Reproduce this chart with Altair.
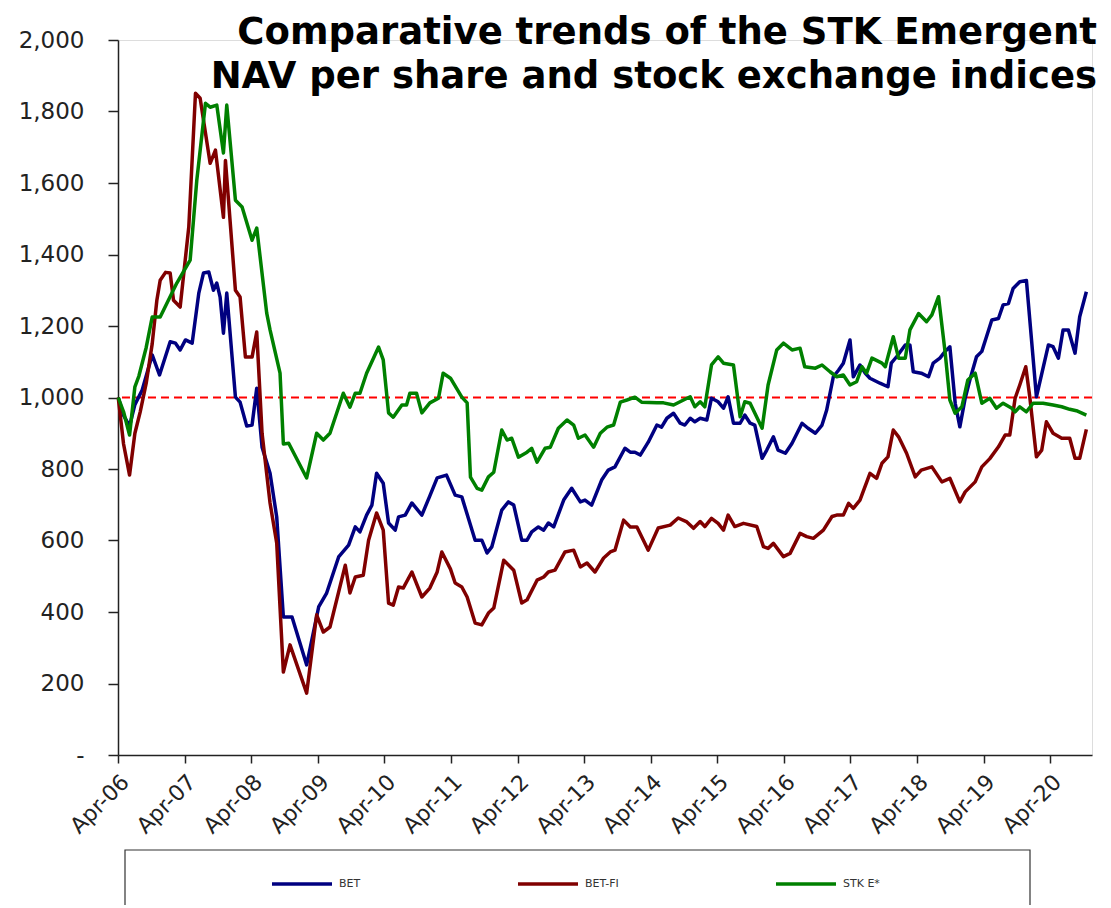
import altair as alt
import pandas as pd

# ---------------- data ----------------
bet_t = [2006.25, 2006.33, 2006.42, 2006.50, 2006.61, 2006.76, 2006.87, 2007.03, 2007.11, 2007.18,
         2007.26, 2007.36, 2007.46, 2007.53, 2007.61, 2007.68, 2007.73, 2007.78, 2007.83, 2007.88,
         2008.01, 2008.08, 2008.18, 2008.26, 2008.33, 2008.41, 2008.53, 2008.63, 2008.73, 2008.86,
         2009.08, 2009.26, 2009.38, 2009.56, 2009.71, 2009.81, 2009.88, 2009.98, 2010.06, 2010.13,
         2010.23, 2010.31, 2010.41, 2010.46, 2010.56, 2010.66, 2010.81, 2010.93, 2011.04, 2011.18,
         2011.31, 2011.41, 2011.61, 2011.71, 2011.79, 2011.86, 2012.01, 2012.11, 2012.19, 2012.31,
         2012.39, 2012.46, 2012.56, 2012.64, 2012.71, 2012.79, 2012.94, 2013.06, 2013.19, 2013.26,
         2013.36, 2013.51, 2013.61, 2013.71, 2013.86, 2013.94, 2014.01, 2014.09, 2014.21, 2014.34,
         2014.41, 2014.49, 2014.59, 2014.69, 2014.76, 2014.84, 2014.91, 2014.99, 2015.09, 2015.16,
         2015.26, 2015.34, 2015.41, 2015.49, 2015.59, 2015.66, 2015.74, 2015.81, 2015.92, 2015.99,
         2016.09, 2016.16, 2016.27, 2016.37, 2016.52, 2016.61, 2016.72, 2016.82, 2016.89, 2016.99,
         2017.07, 2017.14, 2017.24, 2017.29, 2017.39, 2017.47, 2017.54, 2017.69, 2017.81, 2017.86,
         2017.94, 2018.07, 2018.14, 2018.19, 2018.31, 2018.42, 2018.49, 2018.59, 2018.67, 2018.74,
         2018.82, 2018.89, 2018.97, 2019.04, 2019.14, 2019.22, 2019.29, 2019.37, 2019.47, 2019.54,
         2019.62, 2019.69, 2019.79, 2019.89, 2020.04, 2020.22, 2020.29, 2020.37, 2020.44, 2020.52,
         2020.62, 2020.69, 2020.79]
bet_v = [1000, 950, 920, 980, 1021, 1119, 1063, 1156, 1152, 1133,
         1161, 1152, 1292, 1348, 1351, 1300, 1320, 1281, 1180, 1292,
         1001, 987, 920, 923, 1026, 861, 788, 666, 386, 386,
         252, 414, 453, 554, 587, 638, 624, 671, 699, 788,
         760, 649, 629, 666, 671, 705, 671, 725, 775, 783,
         727, 722, 601, 601, 565, 582, 685, 708, 699, 601,
         601, 624, 638, 629, 649, 638, 713, 746, 708, 713,
         699, 769, 797, 806, 858, 847, 847, 839, 875, 923,
         917, 942, 956, 928, 923, 942, 932, 942, 937, 998,
         988, 970, 1002, 928, 928, 951, 928, 923, 830, 853,
         890, 853, 844, 872, 928, 914, 900, 923, 965, 1058,
         1077, 1096, 1161, 1058, 1091, 1068, 1054, 1040, 1030, 1096,
         1114, 1147, 1147, 1072, 1068, 1058, 1096, 1110, 1129, 1142,
         984, 918, 998, 1049, 1114, 1129, 1170, 1217, 1221, 1259,
         1263, 1305, 1324, 1327, 1002, 1147, 1142, 1110, 1189, 1189,
         1124, 1226, 1296]

betfi_t = [2006.25, 2006.33, 2006.42, 2006.50, 2006.58, 2006.67, 2006.76, 2006.83, 2006.88, 2006.96,
           2007.03, 2007.08, 2007.18, 2007.31, 2007.41, 2007.48, 2007.63, 2007.71, 2007.83, 2007.86,
           2008.01, 2008.08, 2008.16, 2008.26, 2008.33, 2008.41, 2008.53, 2008.63, 2008.73, 2008.83,
           2009.08, 2009.23, 2009.33, 2009.43, 2009.66, 2009.73, 2009.81, 2009.93, 2010.01, 2010.13,
           2010.23, 2010.31, 2010.38, 2010.46, 2010.53, 2010.66, 2010.81, 2010.93, 2011.04, 2011.11,
           2011.24, 2011.31, 2011.41, 2011.49, 2011.61, 2011.71, 2011.81, 2011.89, 2012.04, 2012.19,
           2012.31, 2012.39, 2012.54, 2012.64, 2012.71, 2012.81, 2012.96, 2013.09, 2013.19, 2013.29,
           2013.41, 2013.54, 2013.64, 2013.71, 2013.84, 2013.94, 2014.04, 2014.21, 2014.36, 2014.54,
           2014.66, 2014.79, 2014.89, 2014.99, 2015.06, 2015.16, 2015.26, 2015.34, 2015.41, 2015.51,
           2015.64, 2015.84, 2015.94, 2016.01, 2016.09, 2016.24, 2016.34, 2016.49, 2016.59, 2016.69,
           2016.84, 2016.97, 2017.04, 2017.14, 2017.22, 2017.29, 2017.39, 2017.54, 2017.64, 2017.72,
           2017.81, 2017.89, 2017.97, 2018.09, 2018.22, 2018.31, 2018.47, 2018.62, 2018.74, 2018.89,
           2018.97, 2019.12, 2019.22, 2019.34, 2019.47, 2019.57, 2019.64, 2019.72, 2019.79, 2019.88,
           2019.94, 2020.04, 2020.12, 2020.19, 2020.29, 2020.42, 2020.54, 2020.62, 2020.69, 2020.79]
betfi_v = [1000, 870, 783, 900, 960, 1040, 1150, 1272, 1328, 1350,
           1348, 1272, 1253, 1478, 1851, 1837, 1655, 1692, 1504, 1663,
           1300, 1281, 1113, 1113, 1183, 900, 705, 593, 232, 308,
           173, 392, 344, 358, 531, 453, 498, 503, 601, 677,
           629, 425, 419, 470, 467, 512, 442, 467, 512, 568,
           520, 481, 470, 442, 369, 364, 397, 411, 545, 517,
           425, 434, 489, 498, 512, 517, 568, 573, 526, 537,
           512, 551, 568, 573, 657, 638, 638, 573, 635, 643,
           663, 652, 634, 653, 639, 662, 648, 629, 671, 639,
           648, 639, 583, 578, 592, 555, 564, 620, 611, 606,
           629, 667, 671, 671, 704, 690, 713, 788, 774, 816,
           834, 909, 890, 844, 778, 797, 806, 764, 774, 708,
           736, 764, 806, 829, 862, 895, 895, 998, 1035, 1086,
           1002, 834, 853, 932, 900, 886, 886, 830, 830, 911]

stk_t = [2006.25, 2006.33, 2006.42, 2006.50, 2006.56, 2006.67, 2006.76, 2006.88, 2007.13, 2007.33,
         2007.43, 2007.56, 2007.63, 2007.73, 2007.83, 2007.88, 2008.01, 2008.11, 2008.26, 2008.33,
         2008.48, 2008.53, 2008.68, 2008.73, 2008.81, 2009.08, 2009.23, 2009.33, 2009.43, 2009.63,
         2009.73, 2009.81, 2009.88, 2009.98, 2010.16, 2010.23, 2010.31, 2010.38, 2010.51, 2010.58,
         2010.63, 2010.73, 2010.81, 2010.93, 2011.06, 2011.13, 2011.24, 2011.41, 2011.49, 2011.54,
         2011.64, 2011.71, 2011.81, 2011.89, 2012.01, 2012.09, 2012.16, 2012.26, 2012.39, 2012.46,
         2012.54, 2012.66, 2012.74, 2012.86, 2012.99, 2013.09, 2013.16, 2013.26, 2013.39, 2013.49,
         2013.59, 2013.69, 2013.79, 2013.89, 2014.01, 2014.11, 2014.34, 2014.44, 2014.59, 2014.74,
         2014.84, 2014.91, 2014.99, 2015.06, 2015.16, 2015.26, 2015.34, 2015.49, 2015.59, 2015.66,
         2015.74, 2015.92, 2016.01, 2016.14, 2016.24, 2016.37, 2016.49, 2016.56, 2016.72, 2016.82,
         2016.94, 2017.04, 2017.14, 2017.24, 2017.34, 2017.42, 2017.49, 2017.57, 2017.72, 2017.77,
         2017.89, 2017.97, 2018.07, 2018.14, 2018.27, 2018.39, 2018.47, 2018.57, 2018.67, 2018.74,
         2018.82, 2018.92, 2019.01, 2019.12, 2019.22, 2019.34, 2019.44, 2019.54, 2019.67, 2019.72,
         2019.79, 2019.89, 2019.99, 2020.14, 2020.29, 2020.42, 2020.54, 2020.64, 2020.79]
stk_v = [1000, 960, 895, 1030, 1060, 1140, 1225, 1225, 1320, 1384,
         1608, 1823, 1812, 1818, 1684, 1818, 1552, 1533, 1440, 1474,
         1236, 1189, 1068, 870, 872, 775, 900, 881, 900, 1012,
         973, 1012, 1012, 1068, 1141, 1105, 957, 945, 979, 979,
         1012, 1012, 957, 985, 998, 1068, 1054, 1001, 985, 777,
         746, 741, 778, 791, 909, 881, 886, 833, 847, 858,
         819, 858, 861, 914, 937, 923, 886, 895, 861, 900,
         917, 923, 987, 993, 1001, 987, 985, 985, 979, 993,
         1002, 974, 988, 974, 1091, 1114, 1096, 1091, 946, 988,
         984, 914, 1035, 1133, 1152, 1133, 1138, 1086, 1082, 1091,
         1072, 1058, 1063, 1035, 1044, 1086, 1068, 1110, 1096, 1086,
         1170, 1110, 1110, 1189, 1235, 1212, 1231, 1282, 1124, 993,
         956, 974, 1049, 1068, 984, 998, 970, 984, 970, 960,
         974, 960, 984, 984, 979, 974, 967, 963, 951]

series_names = ["BET", "BET-FI", "STK E*"]
series_colors = ["#000080", "#800000", "#008000"]
series_widths = [3.5, 3.5, 5]

ref_value = [1000]
y_ticks = [0, 200, 400, 600, 800, 1000, 1200, 1400, 1600, 1800, 2000]
x_tick_years = list(range(2006, 2021))  # labelled "Apr-06" ... "Apr-20"

title_lines = ["Comparative trends of the STK Emergent",
               "NAV per share and stock exchange indices"]


def to_date(t):
    return (pd.Timestamp("2006-01-01") + pd.Timedelta(days=(t - 2006) * 365.25)).strftime("%Y-%m-%dT%H:%M:%S")


rows = []
for name, ts, vs in [("BET", bet_t, bet_v), ("BET-FI", betfi_t, betfi_v), ("STK E*", stk_t, stk_v)]:
    for i, (t, v) in enumerate(zip(ts, vs)):
        rows.append({"date": to_date(t), "value": v, "series": name, "order": i})
df = pd.DataFrame(rows)

W, H = 974, 715
x_scale = alt.Scale(type="utc", domain=[alt.DateTime(year=2006, month=4, date=1, utc=True),
                                        alt.DateTime(year=2020, month=11, date=16, utc=True)])
y_scale = alt.Scale(domain=[0, 2000], nice=False)

lines = alt.Chart(df).mark_line(strokeJoin="round").encode(
    x=alt.X("date:T", scale=x_scale, title=None,
            axis=alt.Axis(values=[alt.DateTime(year=y, month=4, date=1, utc=True) for y in x_tick_years],
                          labelExpr="'Apr-' + utcFormat(datum.value, '%y')",
                          labelAngle=-45, labelFontSize=22,
                          labelFont="DejaVu Sans", labelColor="#222222", labelPadding=8,
                          tickSize=8, tickColor="#222222", domainColor="#222222",
                          tickWidth=1.5, domainWidth=1.5, grid=False, labelOverlap=False,
                          labelBound=False, labelFlush=False)),
    y=alt.Y("value:Q", scale=y_scale, title=None,
            axis=alt.Axis(values=y_ticks, labelExpr="datum.value == 0 ? '-' : format(datum.value, ',')",
                          labelFontSize=23, labelFont="DejaVu Sans", labelColor="#222222",
                          labelPadding=24, tickSize=10, tickColor="#222222", domainColor="#222222",
                          tickWidth=1.5, domainWidth=1.5, grid=False)),
    color=alt.Color("series:N", scale=alt.Scale(domain=series_names, range=series_colors),
                    legend=alt.Legend(title=None, orient="none", legendX=152, legendY=812,
                                      direction="horizontal", columns=3, columnPadding=150,
                                      symbolType="stroke", symbolSize=3600, symbolStrokeWidth=3,
                                      labelFontSize=11, labelFont="DejaVu Sans", labelColor="#333333",
                                      labelOffset=5)),
    strokeWidth=alt.StrokeWidth("series:N", scale=alt.Scale(domain=series_names, range=series_widths),
                                legend=None),
    order="order:Q",
)

ref = alt.Chart(pd.DataFrame({"y": ref_value})).mark_rule(
    color="#ff0000", strokeDash=[8, 5], strokeWidth=2).encode(y=alt.Y("y:Q", scale=y_scale))

legend_box = alt.Chart(pd.DataFrame({"a": [0]})).mark_rect(
    fill=None, stroke="#333333", strokeWidth=1.2).encode(
    x=alt.value(7), x2=alt.value(912), y=alt.value(810), y2=alt.value(900))

chart = alt.layer(ref, lines, legend_box).properties(
    width=W, height=H,
    padding={"left": 110, "top": 32, "right": 10, "bottom": 150},
    autosize=alt.AutoSizeParams(type="none"),
    title=alt.TitleParams(text=title_lines, anchor="end", orient="top", frame="group",
                          offset=-67, dx=5, fontSize=37, font="DejaVu Sans", fontWeight="bold",
                          lineHeight=44, color="#000000"),
).configure_view(stroke="transparent", strokeWidth=0).configure(background="white")

chart.save("out.html", embed_options={"renderer": "svg", "actions": False})
